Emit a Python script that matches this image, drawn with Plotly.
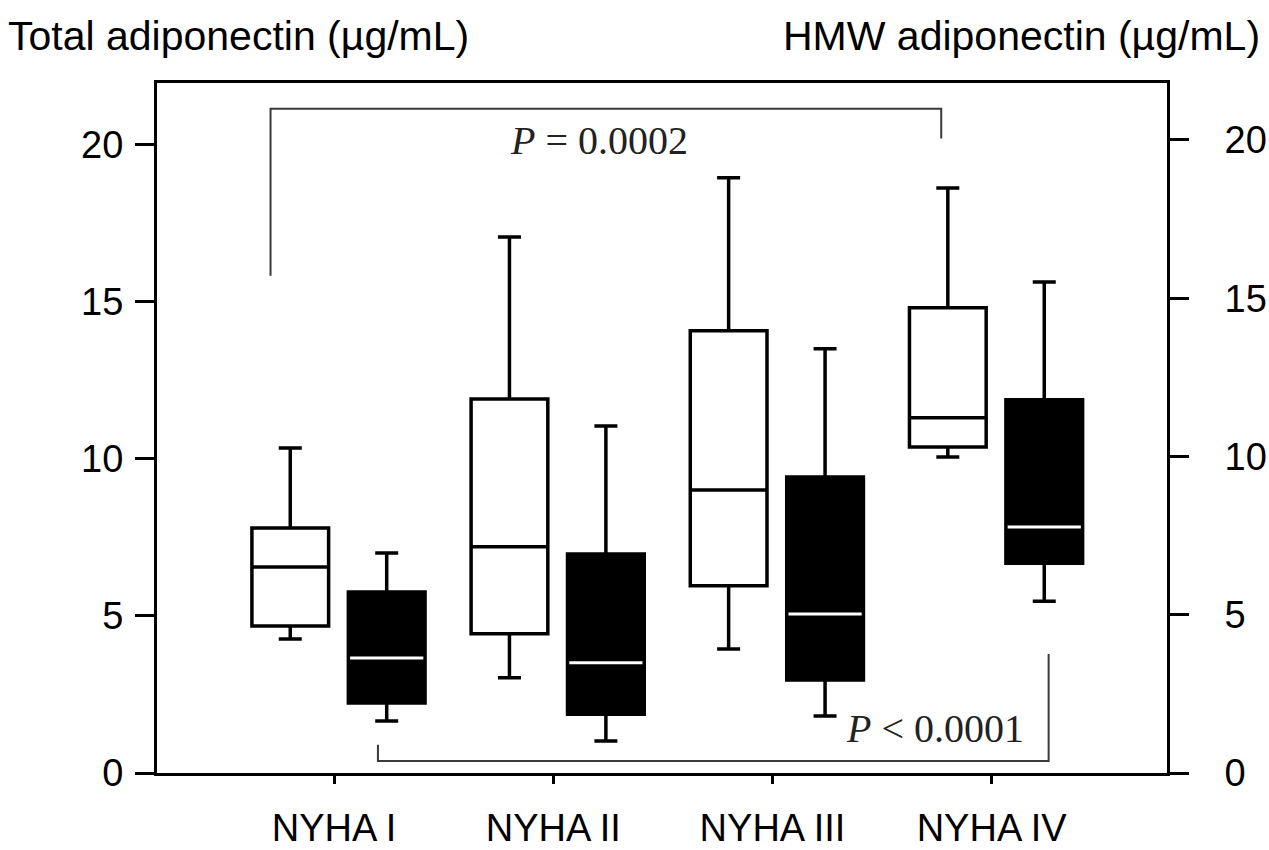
import plotly.graph_objects as go

# NYHA functional classes
groups = ["NYHA I", "NYHA II", "NYHA III", "NYHA IV"]

# Total adiponectin (µg/mL), left axis
total_low = [4.27, 3.03, 3.95, 10.06]
total_q1 = [4.68, 4.43, 5.96, 10.38]
total_median = [6.56, 7.20, 9.01, 11.31]
total_q3 = [7.80, 11.91, 14.08, 14.81]
total_high = [10.35, 17.07, 18.95, 18.63]

# HMW adiponectin (µg/mL), right axis
hmw_low = [1.64, 1.01, 1.80, 5.43]
hmw_q1 = [2.21, 1.86, 2.94, 6.63]
hmw_median = [3.63, 3.48, 5.02, 7.77]
hmw_q3 = [5.72, 6.92, 9.35, 11.79]
hmw_high = [6.95, 10.96, 13.40, 15.51]

# significance brackets: (text, left group, right group, level, left leg end, right leg end)
p_total = ("<i>P</i> = 0.0002", 0, 3, 21.15, 15.83, 20.2)
p_hmw = ("<i>P</i> < 0.0001", 0, 3, 0.38, 0.89, 3.76)

box_w = 0.35
off_total = -0.20
off_hmw = 0.24
pos = list(range(len(groups)))
x_total = [p + off_total for p in pos]
x_hmw = [p + off_hmw for p in pos]

sans = "Liberation Sans, Arial, Helvetica, sans-serif"
serif = "Liberation Serif, Times New Roman, serif"

fig = go.Figure()

fig.add_trace(go.Box(
    x=x_total, q1=total_q1, median=total_median, q3=total_q3,
    lowerfence=total_low, upperfence=total_high,
    width=box_w, whiskerwidth=0.3, boxpoints=False,
    fillcolor="white", line=dict(color="black", width=3.5),
    yaxis="y", showlegend=False, name="Total adiponectin",
))

fig.add_trace(go.Box(
    x=x_hmw, q1=hmw_q1, median=hmw_median, q3=hmw_q3,
    lowerfence=hmw_low, upperfence=hmw_high,
    width=box_w, whiskerwidth=0.3, boxpoints=False,
    fillcolor="black", line=dict(color="black", width=3.5),
    yaxis="y2", showlegend=False, name="HMW adiponectin",
))

# white median bars across the filled boxes
mx, my = [], []
half = box_w / 2 - 0.008
for xc, m in zip(x_hmw, hmw_median):
    mx += [xc - half, xc + half, None]
    my += [m, m, None]
fig.add_trace(go.Scatter(
    x=mx, y=my, mode="lines", line=dict(color="white", width=3),
    yaxis="y2", showlegend=False, hoverinfo="skip",
))

bracket_color = "#3a3a3a"


def bracket(spec, dx_left, dx_right, yref, text_x, text_y):
    text, g0, g1, level, leg0, leg1 = spec
    x0 = pos[g0] + dx_left
    x1 = pos[g1] + dx_right
    fig.add_trace(go.Scatter(
        x=[x0, x0, x1, x1], y=[leg0, level, level, leg1],
        mode="lines", line=dict(color=bracket_color, width=2),
        yaxis=yref, showlegend=False, hoverinfo="skip",
    ))
    fig.add_annotation(
        x=text_x, y=text_y, xref="x", yref=yref, text=text, showarrow=False,
        font=dict(family=serif, size=40, color="#222222"),
    )


bracket(p_total, -0.29, -0.23, "y", 1.21, 20.15)
bracket(p_hmw, 0.20, 0.26, "y2", 2.74, 1.40)

fig.add_annotation(
    x=-0.150, y=1.068, xref="paper", yref="paper", xanchor="left", yanchor="middle",
    text="Total adiponectin (µg/mL)", showarrow=False,
    font=dict(family=sans, size=41, color="black"),
)
fig.add_annotation(
    x=1.094, y=1.068, xref="paper", yref="paper", xanchor="right", yanchor="middle",
    text="HMW adiponectin (µg/mL)", showarrow=False,
    font=dict(family=sans, size=41, color="black"),
)

fig.update_layout(
    width=1269, height=850,
    margin=dict(l=157, r=102, t=83, b=77),
    paper_bgcolor="white", plot_bgcolor="white",
    boxmode="overlay",
    font=dict(family=sans, size=38, color="black"),
    xaxis=dict(
        range=[-0.808, 3.80], tickmode="array", tickvals=pos, ticktext=groups,
        showline=True, linecolor="black", linewidth=3, mirror=True,
        ticks="outside", ticklen=8, tickwidth=3, tickcolor="black",
        showgrid=False, zeroline=False, ticklabelstandoff=11, automargin=False,
    ),
    yaxis=dict(
        range=[0, 21.97], tickvals=[0, 5, 10, 15, 20],
        showline=True, linecolor="black", linewidth=3,
        ticks="outside", ticklen=19, tickwidth=3, tickcolor="black",
        showgrid=False, zeroline=False, ticklabelstandoff=4, automargin=False,
    ),
    yaxis2=dict(
        range=[0, 21.8], tickvals=[0, 5, 10, 15, 20], overlaying="y", side="right",
        anchor="x", ticklabelposition="outside",
        showline=True, linecolor="black", linewidth=3,
        ticks="outside", ticklen=19, tickwidth=3, tickcolor="black",
        showgrid=False, zeroline=False, ticklabelstandoff=28, automargin=False,
    ),
)

fig.write_html("out.html")
